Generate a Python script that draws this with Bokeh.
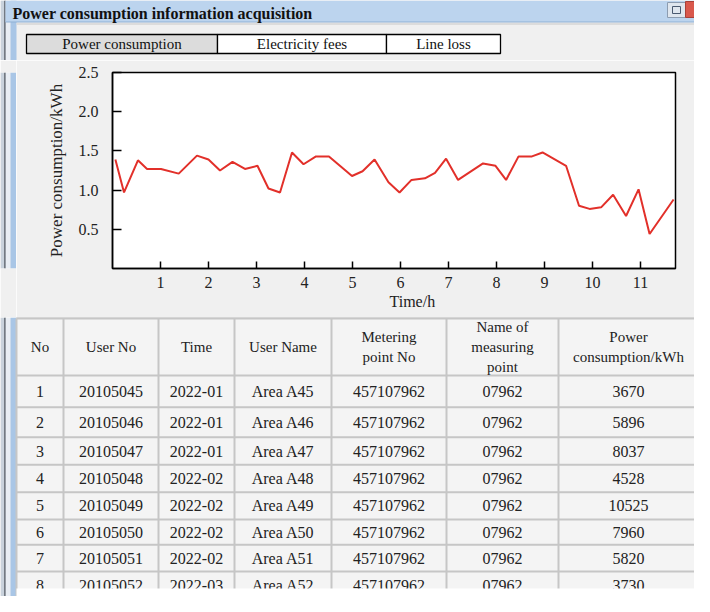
from bokeh.plotting import figure
from bokeh.layouts import column, row
from bokeh.models import Range1d, FixedTicker, PrintfTickFormatter, ColumnDataSource, Title
from bokeh.core.properties import value
from bokeh.embed import file_html
from bokeh.resources import INLINE

FONT = "Liberation Serif"
BG = "#f0f0f0"
TXT = "#222222"

# ---------------- data ----------------
window_title = "Power consumption information acquisition"
tab_labels = ["Power consumption", "Electricity fees", "Line loss"]

time_h = [0.06, 0.24, 0.53, 0.72, 1.01, 1.38, 1.76, 2.00, 2.24, 2.50, 2.76, 3.02,
          3.25, 3.49, 3.74, 3.98, 4.24, 4.51, 4.99, 5.21, 5.46, 5.75, 5.98, 6.23,
          6.51, 6.72, 6.95, 7.20, 7.72, 7.98, 8.20, 8.46, 8.74, 8.96, 9.45, 9.72,
          9.94, 10.18, 10.43, 10.70, 10.96, 11.19, 11.69]
consumption = [1.39, 0.97, 1.38, 1.27, 1.27, 1.21, 1.44, 1.39, 1.25, 1.36, 1.27, 1.31,
               1.02, 0.97, 1.48, 1.33, 1.43, 1.43, 1.18, 1.24, 1.39, 1.10, 0.97, 1.13,
               1.15, 1.22, 1.40, 1.13, 1.34, 1.31, 1.13, 1.43, 1.43, 1.48, 1.31, 0.80,
               0.76, 0.78, 0.94, 0.67, 1.01, 0.44, 0.88]
x_ticks = [1, 2, 3, 4, 5, 6, 7, 8, 9, 10, 11]
y_ticks = [0.5, 1.0, 1.5, 2.0, 2.5]
x_label = "Time/h"
y_label = "Power consumption/kWh"

header_labels = ["No", "User No", "Time", "User Name", "Metering\npoint No",
                 "Name of\nmeasuring\npoint", "Power\nconsumption/kWh"]
row_no = ["1", "2", "3", "4", "5", "6", "7", "8"]
user_no = ["20105045", "20105046", "20105047", "20105048", "20105049",
           "20105050", "20105051", "20105052"]
period = ["2022-01", "2022-01", "2022-01", "2022-02", "2022-02", "2022-02",
          "2022-02", "2022-03"]
user_name = ["Area A45", "Area A46", "Area A47", "Area A48", "Area A49",
             "Area A50", "Area A51", "Area A52"]
metering_no = ["457107962"] * 8
measuring_name = ["07962"] * 8
power_kwh = [3670, 5896, 8037, 4528, 10525, 7960, 5820, 3730]

# ---------------- layout (window pixel coordinates) ----------------
W = 694
tab_edges = [26, 217, 386, 500]
tab_fills = ["#dcdcdc", "white", "white"]
col_edges = [16, 63, 158, 234, 331, 446, 558, 698]
row_edges = [318, 375, 406.7, 436.7, 464.3, 491.7, 519, 544.3, 571, 598]
BAND = "#a9c6e6"


def chrome_fig(w, h, xr, yr):
    return figure(width=w, height=h, x_range=Range1d(*xr), y_range=Range1d(*yr),
                  x_axis_type=None, y_axis_type=None, toolbar_location=None,
                  output_backend="svg", min_border=0, outline_line_color=None,
                  background_fill_color=BG, border_fill_color=BG)


def left_edge(f, y0, y1):
    f.quad(left=[0], right=[4], top=[y0], bottom=[y1], fill_color="#c9d2dc", line_color=None)
    f.segment(x0=[4.5], y0=[y0], x1=[4.5], y1=[y1], line_color="#4e5660", line_width=1.5)
    f.quad(left=[5.2], right=[10], top=[y0], bottom=[y1], fill_color="#e9eef4", line_color=None)
    f.quad(left=[10], right=[16], top=[y0], bottom=[y1], fill_color=BAND, line_color=None)


# ---------------- top: title bar and tabs ----------------
top = chrome_fig(W, 60, (0, W), (60, 0))
left_edge(top, 0, 60)
top.quad(left=[5], right=[W], top=[0], bottom=[21.5], fill_color="#bcd4ee", line_color=None)
top.segment(x0=[5], y0=[21.5], x1=[W], y1=[21.5], line_color="#8fb0d4", line_width=1)
# panel border
top.segment(x0=[16], y0=[23.5], x1=[W], y1=[23.5], line_color="#d6d6d6", line_width=1.5)
# window buttons
top.quad(left=[667], right=[685], top=[2], bottom=[17], fill_color="#dfe6ee", line_color="#8c9cb0")
top.quad(left=[672], right=[680], top=[6], bottom=[13], fill_color=None, line_color="#4a5a70")
top.quad(left=[685], right=[W], top=[1], bottom=[17], fill_color="#d9584c", line_color="#a84038")
top.text(x=[12], y=[12.5], text=[window_title], text_font=value(FONT), text_font_style="bold",
         text_font_size="16px", text_color="#111111", text_baseline="middle", text_align="left")
# tabs
top.quad(left=tab_edges[:-1], right=tab_edges[1:], top=34, bottom=53,
         fill_color=tab_fills, line_color="black", line_width=1.3)
tab_cx = [(tab_edges[i] + tab_edges[i + 1]) / 2 for i in range(len(tab_labels))]
top.text(x=tab_cx, y=[43.5] * len(tab_labels), text=tab_labels, text_font=value(FONT),
         text_font_size="15px", text_color="#111111", text_align="center", text_baseline="middle")

# ---------------- middle: chart ----------------
strip = chrome_fig(16, 257, (0, 16), (317, 60))
left_edge(strip, 60, 317)

p = figure(width=W - 16, height=257, x_range=Range1d(0, 11.73), y_range=Range1d(0, 2.5),
           toolbar_location=None, output_backend="svg",
           min_border_left=96, min_border_right=19, min_border_top=12, min_border_bottom=49,
           background_fill_color="white", border_fill_color=BG,
           outline_line_color="black", outline_line_width=1.5)
p.line(time_h, consumption, line_color="#e2302a", line_width=2)
p.xgrid.visible = False
p.ygrid.visible = False
p.xaxis.ticker = FixedTicker(ticks=x_ticks)
p.yaxis.ticker = FixedTicker(ticks=y_ticks)
p.yaxis.formatter = PrintfTickFormatter(format="%.1f")
for ax in (p.xaxis[0], p.yaxis[0]):
    ax.axis_line_color = "black"
    ax.axis_line_width = 1.5
    ax.major_tick_line_color = "black"
    ax.major_tick_line_width = 1.5
    ax.major_tick_out = 0
    ax.minor_tick_out = 0
    ax.minor_tick_in = 0
    ax.major_label_text_font = FONT
    ax.major_label_text_font_size = "16px"
    ax.major_label_text_color = TXT
p.xaxis.major_tick_in = 7
p.yaxis.major_tick_in = 9
p.xaxis.major_label_standoff = 8
p.yaxis.major_label_standoff = 14
# axis titles as side titles (offset from the axis centre as in the window)
p.add_layout(Title(text=x_label, align="left", offset=277, standoff=0, text_font=FONT,
                   text_font_size="16px", text_font_style="normal", text_color=TXT), "below")
p.add_layout(Title(text=y_label, align="center", offset=9, standoff=20, text_font=FONT,
                   text_font_size="17px", text_font_style="normal", text_color=TXT), "left")

# ---------------- bottom: table ----------------
tab = chrome_fig(W, 279, (0, W), (596, 317))
left_edge(tab, 317, 596)
tab.quad(left=[col_edges[0]], right=[col_edges[-1]], top=[row_edges[0]], bottom=[row_edges[-1]],
         fill_color="#f4f4f4", line_color=None)
tab.segment(x0=[16], y0=[317], x1=[W], y1=[317], line_color="#bdbdbd", line_width=2)
# grid lines
tab.segment(x0=col_edges, y0=[row_edges[0]] * len(col_edges), x1=col_edges,
            y1=[row_edges[-1]] * len(col_edges), line_color="#c6c6c6", line_width=2)
tab.segment(x0=[col_edges[0]] * (len(row_edges) - 1), y0=row_edges[:-1],
            x1=[col_edges[-1]] * (len(row_edges) - 1), y1=row_edges[:-1],
            line_color="#c6c6c6", line_width=2)
col_cx = [(col_edges[i] + col_edges[i + 1]) / 2 for i in range(len(col_edges) - 1)]
# header
tab.text(x=col_cx, y=[(row_edges[0] + row_edges[1]) / 2] * len(col_cx), text=header_labels,
         text_font=value(FONT), text_font_size="15px", text_color=TXT,
         text_align="center", text_baseline="middle", text_line_height=1.25)
# body
table_cols = [row_no, user_no, period, user_name, metering_no, measuring_name,
              [str(v) for v in power_kwh]]
xs, ys, ts = [], [], []
for ci, colvals in enumerate(table_cols):
    for ri, v in enumerate(colvals):
        xs.append(col_cx[ci])
        ys.append((row_edges[ri + 1] + row_edges[ri + 2]) / 2)
        ts.append(v)
tab.text(x="x", y="y", text="t", source=ColumnDataSource(dict(x=xs, y=ys, t=ts)),
         text_font=value(FONT), text_font_size="16px", text_color=TXT,
         text_align="center", text_baseline="middle")
# white strip below the visible rows
tab.quad(left=[16], right=[W], top=[588], bottom=[596], fill_color="white", line_color=None)

layout = column(top, row(strip, p), tab)
open("out.html", "w").write(file_html(layout, INLINE))
